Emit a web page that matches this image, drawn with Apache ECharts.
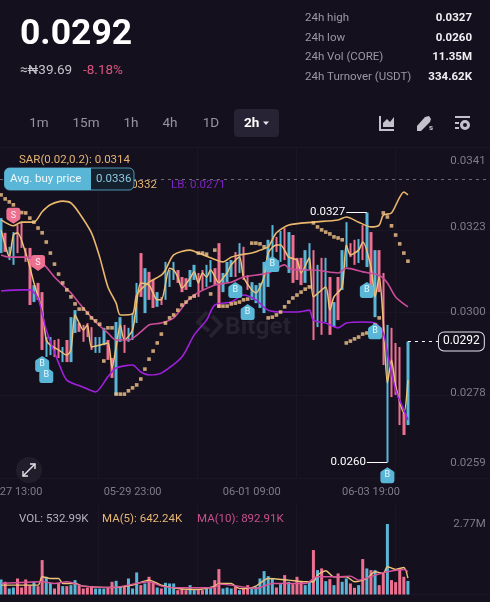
<!DOCTYPE html>
<html><head><meta charset="utf-8">
<style>html,body{margin:0;padding:0;background:#15101e}#c{width:490px;height:602px}</style>
<script src="https://cdn.jsdelivr.net/npm/echarts@6/dist/echarts.min.js"></script>
</head><body><div id="c"></div>
<script>
const opens=[.03160,.03215,.03141,.03128,.03236,.03242,.03174,.03174,.03027,.03079,.03054,.02878,.02883,.02924,.02927,.02864,.02924,.02864,.02943,.02970,.02965,.02970,.02959,.02889,.02889,.02910,.02924,.02875,.02775,.02919,.02965,.02919,.02924,.02970,.03160,.02997,.03109,.03087,.03014,.03041,.03033,.03068,.03087,.03114,.03095,.03092,.03068,.03087,.03106,.03114,.03068,.03081,.03119,.03187,.03054,.03081,.03095,.03163,.03106,.03177,.03100,.03033,.03024,.03011,.02997,.03068,.03114,.03204,.03136,.03228,.03106,.03209,.03147,.03147,.03079,.03114,.03168,.02959,.03147,.02973,.03095,.02959,.03095,.03060,.03122,.03187,.03196,.03133,.03236,.03122,.03217,.02986,.03168,.03106,.02592,.02957,.02916,.02905,.02726,.02693];
const closes=[.03255,.03163,.03177,.03217,.03160,.03174,.03136,.03019,.03073,.03033,.02897,.02932,.02932,.02878,.02875,.02905,.02864,.02986,.03005,.02946,.02919,.02932,.02897,.02932,.02932,.02957,.02870,.02821,.02973,.02986,.02889,.02957,.02997,.03079,.03041,.03119,.03033,.03011,.03054,.03019,.03136,.03114,.03136,.03079,.03054,.03060,.03114,.03128,.03041,.03060,.03128,.03141,.03073,.03011,.03106,.03136,.03141,.03095,.03187,.03087,.03060,.03081,.03073,.03079,.03136,.03196,.03236,.03163,.03220,.03141,.03217,.03079,.03087,.03073,.03168,.03187,.02924,.03128,.02938,.03147,.02938,.03027,.02978,.03168,.03244,.03149,.03128,.03198,.03141,.03270,.03041,.03168,.03054,.02856,.02965,.02769,.02775,.02693,.02666,.02920];
const volumes=[591,499,236,276,630,276,591,368,499,328,1352,696,460,236,460,328,328,368,565,368,236,276,302,236,236,236,276,499,538,302,328,630,236,867,368,433,696,499,276,236,460,433,433,171,276,171,368,171,171,171,276,276,565,998,236,276,236,328,171,236,368,236,302,630,919,722,630,276,407,762,499,407,696,499,368,499,1746,958,1024,525,604,368,827,499,630,433,263,368,1392,1024,958,958,368,827,2770,565,486,1024,696,533];
const sarValues=[.03318,.03307,.03299,.03291,.03272,.03270,.03269,.03255,.03244,.03228,.03215,.03190,.03160,.03130,.03103,.03079,.03060,.03041,.03022,.03008,.03008,.02997,.02984,.02976,.02967,.02867,.02957,.02957,.02777,.02777,.02777,.02786,.02794,.02802,.02818,.02845,.02872,.02894,.02916,.02940,.02970,.02984,.02992,.03005,.03019,.03027,.03038,.03043,.03160,.03160,.03157,.03049,.03168,.03016,.03016,.03016,.03022,.03024,.03027,.03033,.03035,.03187,.03187,.03185,.03177,.02984,.02986,.02992,.03000,.03014,.03027,.03038,.03046,.03054,.03062,.03068,.03242,.03231,.03223,.03217,.03212,.03204,.03201,.03196,.02916,.02921,.02927,.02932,.02940,.02943,.02948,.02965,.02984,.03269,.03258,.03234,.03209,.03185,.03160,.03138];
const upperBand=[[0,.03250],[3,.03234],[5,.03244],[8,.03244],[10,.03272],[12,.03291],[15,.03301],[17,.03296],[19,.03269],[22,.03215],[24,.03149],[26,.03068],[28,.03024],[29,.02992],[32,.02995],[33,.03046],[36,.03081],[39,.03100],[40,.03114],[42,.03155],[46,.03168],[48,.03160],[51,.03147],[54,.03136],[56,.03149],[58,.03155],[61,.03160],[63,.03168],[65,.03177],[67,.03215],[70,.03236],[76,.03244],[82,.03250],[84,.03258],[87,.03244],[90,.03231],[92,.03236],[93,.03263],[95,.03269],[98,.03326],[99,.03318]];
const midBand=[[0,.03155],[2,.03149],[6,.03149],[10,.03133],[13,.03095],[15,.03073],[17,.03052],[19,.03024],[23,.02973],[26,.02943],[28,.02924],[31,.02924],[34,.02946],[36,.02965],[39,.02970],[42,.02984],[46,.03038],[52,.03073],[56,.03081],[59,.03095],[65,.03106],[69,.03128],[70,.03119],[73,.03114],[76,.03114],[82,.03106],[84,.03119],[88,.03109],[92,.03100],[94,.03079],[96,.03041],[99,.03014]];
const lowerBand=[[0,.03057],[5,.03060],[7,.03060],[9,.03038],[11,.02951],[14,.02862],[16,.02815],[20,.02796],[23,.02783],[26,.02824],[28,.02848],[32,.02856],[34,.02837],[36,.02829],[39,.02834],[44,.02878],[47,.02938],[50,.02978],[52,.03019],[56,.03027],[59,.03046],[62,.03033],[65,.03005],[69,.03000],[72,.03000],[75,.03005],[76,.02978],[79,.02970],[82,.02957],[84,.02970],[88,.02973],[91,.02970],[93,.02943],[94,.02889],[96,.02788],[98,.02734],[99,.02707]];
const priceLine=[[0,.03223],[1,.03182],[2,.03149],[3,.03209],[4,.03215],[6,.03160],[7,.03122],[8,.03079],[10,.03005],[11,.02924],[12,.02910],[14,.02897],[16,.02883],[17,.02897],[18,.02992],[19,.02970],[20,.02951],[21,.02965],[22,.02905],[24,.02910],[26,.02916],[27,.02848],[28,.02905],[29,.02965],[30,.02924],[32,.02951],[33,.03027],[34,.03079],[36,.03073],[38,.03033],[39,.03033],[41,.03119],[42,.03114],[43,.03095],[44,.03065],[46,.03092],[47,.03109],[48,.03079],[49,.03106],[50,.03095],[51,.03114],[53,.03079],[54,.03092],[55,.03106],[56,.03128],[58,.03149],[59,.03095],[61,.03060],[62,.03052],[64,.03095],[65,.03160],[67,.03182],[68,.03182],[70,.03149],[72,.03141],[73,.03106],[75,.03147],[76,.03041],[79,.03068],[80,.03005],[81,.03041],[83,.03068],[84,.03182],[85,.03155],[87,.03168],[88,.03190],[90,.03122],[91,.03041],[92,.03095],[93,.02975],[94,.02807],[95,.02870],[96,.02800],[98,.02726],[99,.02815]];
const volMa5=[[0,368],[5,368],[9,368],[10,696],[12,630],[14,630],[15,433],[18,433],[20,328],[27,276],[32,368],[36,565],[39,368],[43,236],[48,197],[52,328],[53,433],[56,433],[58,236],[60,236],[62,328],[65,630],[70,565],[74,499],[76,499],[77,762],[79,932],[81,696],[84,696],[86,499],[89,630],[91,893],[93,827],[94,1090],[96,985],[98,1063],[99,642]];
const volMa10=[[0,433],[10,499],[13,433],[16,499],[20,328],[27,276],[36,499],[39,328],[43,263],[52,276],[53,407],[60,276],[62,236],[66,433],[74,433],[77,696],[82,696],[85,722],[87,565],[91,762],[94,893],[98,985],[99,893]];
const priceTicks=[0.0341,0.0323,0.0300,0.0278,0.0259];
const timeTicks=['05-27 13:00','05-29 23:00','06-01 09:00','06-03 19:00'];
const buyMarks=[[10,.02859],[11,.02829],[57,.03060],[60,.03000],[66,.03130],[89,.03060],[91,.02948],[94,.02557]];
const sellMarks=[[3,.03261],[9,.03133]];
const periods=['1m','15m','1h','4h','1D'];
const stats=[['24h high','0.0327'],['24h low','0.0260'],['24h Vol (CORE)','11.35M'],['24h Turnover (USDT)','334.62K']];

const categories=[];
{const t0=Date.UTC(2024,4,27,7);const p=n=>String(n).padStart(2,'0');
 for(let i=0;i<120;i++){const d=new Date(t0+i*7200000);categories.push(p(d.getUTCMonth()+1)+'-'+p(d.getUTCDate())+' '+p(d.getUTCHours())+':00');}}
const candleData=opens.map((o,i)=>[o,closes[i],Math.min(o,closes[i]),Math.max(o,closes[i])]);

const BG='#15101e',UP='#5ab6d6',DOWN='#ee7090',GRID='#1b1625',FONT='Roboto',ICON='#c4c1cc',MARKC='#26222f';
const UPPATH='path://M50 0 L92 26 Q98 30 98 38 L98 84 Q98 100 82 100 L18 100 Q2 100 2 84 L2 38 Q2 30 8 26 Z';
const DOWNPATH='path://M50 100 L92 74 Q98 70 98 62 L98 16 Q98 0 82 0 L18 0 Q2 0 2 16 L2 62 Q2 70 8 74 Z';
const lineS=(name,data,color,w,z,xi,yi,extra)=>Object.assign({name,type:'line',data,xAxisIndex:xi||0,yAxisIndex:yi||0,symbol:'none',smooth:0.25,z,silent:true,animation:false,lineStyle:{color,width:w}},extra||{});
const txt=(x,y,text,fill,size,weight,align,z)=>({type:'text',x,y,z:z||50,silent:true,style:{text,fill,font:(weight||'normal')+' '+size+'px '+FONT,textAlign:align||'left',textVerticalAlign:'middle'}});
const poly=(points,fill,z)=>({type:'polygon',z:z||50,silent:true,shape:{points},style:{fill}});
const pl=(points,stroke,w,z)=>({type:'polyline',z:z||50,silent:true,shape:{points},style:{stroke,fill:null,lineWidth:w}});
const graphics=[
 txt(20,35,'0.0292','#ffffff',35.5,'bold'),
 txt(20,71,'≈₦39.69','#c6c3cc',13.5),
 txt(83,71,'-8.18%','#d9557f',13.5),
 {type:'rect',z:40,silent:true,shape:{x:234,y:109,width:45,height:28,r:4},style:{fill:'#282235'}},
 txt(244,123.5,'2h','#ffffff',13.5,'bold'),
 poly([[263,121.5],[269,121.5],[266,125]],'#e8e6ee'),
 pl([[380,116],[380,130],[394,130]],ICON,2),
 poly([[383,127],[383,123],[387,119],[390,122],[394,117],[394,127]],ICON),
 poly([[417,126],[425,117],[429,116],[431,119],[430,122],[421,131],[417,131]],ICON),
 txt(429,128,'s',ICON,8,'bold'),
 pl([[455,117],[470,117]],ICON,2),
 pl([[455,123],[459,123]],ICON,2),
 pl([[455,128],[459,128]],ICON,2),
 {type:'ring',z:50,silent:true,shape:{cx:465,cy:125,r:5,r0:2},style:{fill:ICON}},
 txt(19,160,'SAR(0.02,0.2): 0.0314','#e7b672',11.5),
 txt(157,185,'UB: 0.0332','#e7b672',11.5,'normal','right',30),
 txt(171,185,'LB: 0.0271','#7d25c0',11.5),
 {type:'rect',z:45,silent:true,shape:{x:4.5,y:168,width:129.5,height:22,r:5},style:{fill:'#15202f',stroke:UP,lineWidth:.8}},
 {type:'rect',z:46,silent:true,shape:{x:4.5,y:168,width:86.5,height:22,r:[5,0,0,5]},style:{fill:UP}},
 txt(10,179,'Avg. buy price','#eef8fb',11.5),
 txt(96,179,'0.0336','#8fc8de',11.5),
 pl([[207,312],[198,322],[209,331]],MARKC,4,1),
 pl([[212,316],[221,325],[210,337]],MARKC,4,1),
 txt(225,328,'Bitget',MARKC,24.5,'bold','left',1),
 {type:'circle',z:50,silent:true,shape:{cx:29,cy:470,r:13},style:{fill:'#221d2b'}},
 pl([[23,476],[35,464]],'#e6e4ea',1.4,51),
 pl([[30,464],[35,464],[35,469]],'#e6e4ea',1.4,51),
 pl([[23,471],[23,476],[28,476]],'#e6e4ea',1.4,51),
 txt(19,519,'VOL: 532.99K','#b5b2bd',11.5),
 txt(102,519,'MA(5): 642.24K','#e7b672',11.5),
 txt(197,519,'MA(10): 892.91K','#c7508e',11.5)
];
const periodX=[39,86,131,170,211];
periods.forEach((p,i)=>graphics.push(txt(periodX[i],123.5,p,'#97949f',13.5,'normal','center')));
const statY=[18,38,57,77];
stats.forEach((s,i)=>{graphics.push(txt(305,statY[i],s[0],'#9b98a4',11.5));graphics.push(txt(472,statY[i],s[1],'#f0eff3',11.5,'bold','right'));});

const option={
 backgroundColor:BG,animation:false,textStyle:{fontFamily:FONT},
 graphic:graphics,
 grid:[{left:-1,top:147,width:493.2,height:331,outerBoundsMode:'none'},{left:-1,top:505,width:493.2,height:89.5,outerBoundsMode:'none'}],
 xAxis:[
  {type:'category',gridIndex:0,data:categories,boundaryGap:true,axisLine:{show:true,lineStyle:{color:GRID}},axisTick:{show:false},splitLine:{show:false},
   axisLabel:{color:'#7f7c88',fontSize:11,margin:9,fontFamily:FONT,interval:(i,v)=>timeTicks.includes(v),hideOverlap:false}},
  {type:'value',gridIndex:0,min:0,max:4.98,interval:1,position:'top',axisLine:{show:true,onZero:false,lineStyle:{color:GRID}},axisTick:{show:false},axisLabel:{show:false},splitLine:{show:true,lineStyle:{color:GRID,width:1}}},
  {type:'category',gridIndex:1,data:categories,boundaryGap:true,position:'top',axisLine:{show:true,lineStyle:{color:GRID}},axisTick:{show:false},axisLabel:{show:false},splitLine:{show:false}},
  {type:'value',gridIndex:1,min:0,max:4.98,interval:1,axisLine:{show:false},axisTick:{show:false},axisLabel:{show:false},splitLine:{show:true,lineStyle:{color:GRID,width:1}}}
 ],
 yAxis:[
  {type:'value',gridIndex:0,position:'right',min:0.025493,max:0.03448,scale:true,axisLine:{show:false},axisTick:{show:false},splitLine:{show:false},
   axisLabel:{inside:true,margin:6.5,color:'#7f7c88',fontSize:11.5,fontFamily:FONT,customValues:priceTicks,formatter:v=>v.toFixed(4)}},
  {type:'value',gridIndex:0,position:'left',min:0,max:4,interval:1,axisLine:{show:false},axisTick:{show:false},axisLabel:{show:false},splitLine:{show:true,lineStyle:{color:GRID,width:1}}},
  {type:'value',gridIndex:1,position:'right',min:0,max:3517,axisLine:{show:false},axisTick:{show:false},splitLine:{show:false},
   axisLabel:{inside:true,margin:6.5,color:'#7f7c88',fontSize:11.5,fontFamily:FONT,customValues:[2770],formatter:()=>'2.77M',padding:[0,0,6,0]}}
 ],
 series:[
  {type:'candlestick',xAxisIndex:0,yAxisIndex:0,data:candleData,barWidth:3,z:3,silent:true,animation:false,itemStyle:{color:UP,color0:DOWN,borderColor:UP,borderColor0:DOWN,borderWidth:0}},
  lineS('Price',priceLine,'#ecc377',1.5,5),
  lineS('UB',upperBand,'#eab86c',1.6,5),
  lineS('MB',midBand,'#cb4d9a',1.6,5),
  lineS('LB',lowerBand,'#a021dc',1.6,5),
  {type:'scatter',xAxisIndex:0,yAxisIndex:0,data:sarValues,symbol:'rect',symbolSize:3.6,z:6,silent:true,animation:false,itemStyle:{color:'#f5c58a'},
   markLine:{silent:true,symbol:'none',animation:false,
    data:[
     [{yAxis:0.0336,x:0,lineStyle:{color:'#6d6a78',type:[3,4],width:1},label:{show:false}},{yAxis:0.0336,x:490}],
     [{coord:[89,.0327],lineStyle:{color:'#fff',width:1,type:'solid'},label:{show:true,position:'end',formatter:'0.0327',color:'#fff',fontSize:11.5,fontFamily:FONT,distance:1}},{coord:[84,.0327]}],
     [{coord:[94,.02592],lineStyle:{color:'#fff',width:1,type:'solid'},label:{show:true,position:'end',formatter:'0.0260',color:'#fff',fontSize:11.5,fontFamily:FONT,distance:1}},{coord:[89,.02592]}],
     [{coord:[99,.0292],lineStyle:{color:'#fff',width:1.2,type:[3,4]},label:{show:false}},{coord:[107,.0292]}]
    ]},
   markPoint:{silent:true,animation:false,z:20,
    data:[
     ...buyMarks.map(m=>({coord:m,symbol:UPPATH,symbolSize:[14,16],itemStyle:{color:UP},label:{show:true,formatter:'B',color:'#eaf7fb',fontSize:9,fontFamily:FONT}})),
     ...sellMarks.map(m=>({coord:m,symbol:DOWNPATH,symbolSize:[14,16],itemStyle:{color:DOWN},label:{show:true,formatter:'S',color:'#fdeef2',fontSize:9,fontFamily:FONT}})),
     {coord:[112,.0292],symbol:'rect',symbolSize:0,label:{show:true,position:'inside',formatter:'0.0292',color:'#fff',fontSize:12,fontFamily:FONT,backgroundColor:BG,borderColor:'#e8e6ee',borderWidth:1,borderRadius:5,padding:[3,4]}}
    ]}
  },
  {type:'bar',xAxisIndex:2,yAxisIndex:2,data:volumes,barWidth:3,z:3,silent:true,animation:false,itemStyle:{color:p=>closes[p.dataIndex]>=opens[p.dataIndex]?UP:DOWN}},
  lineS('VOLMA5',volMa5,'#ecc377',1.4,5,2,2),
  lineS('VOLMA10',volMa10,'#d9549a',1.4,5,2,2)
 ]
};
echarts.init(document.getElementById('c'),null,{renderer:'canvas'}).setOption(option);
</script></body></html>
